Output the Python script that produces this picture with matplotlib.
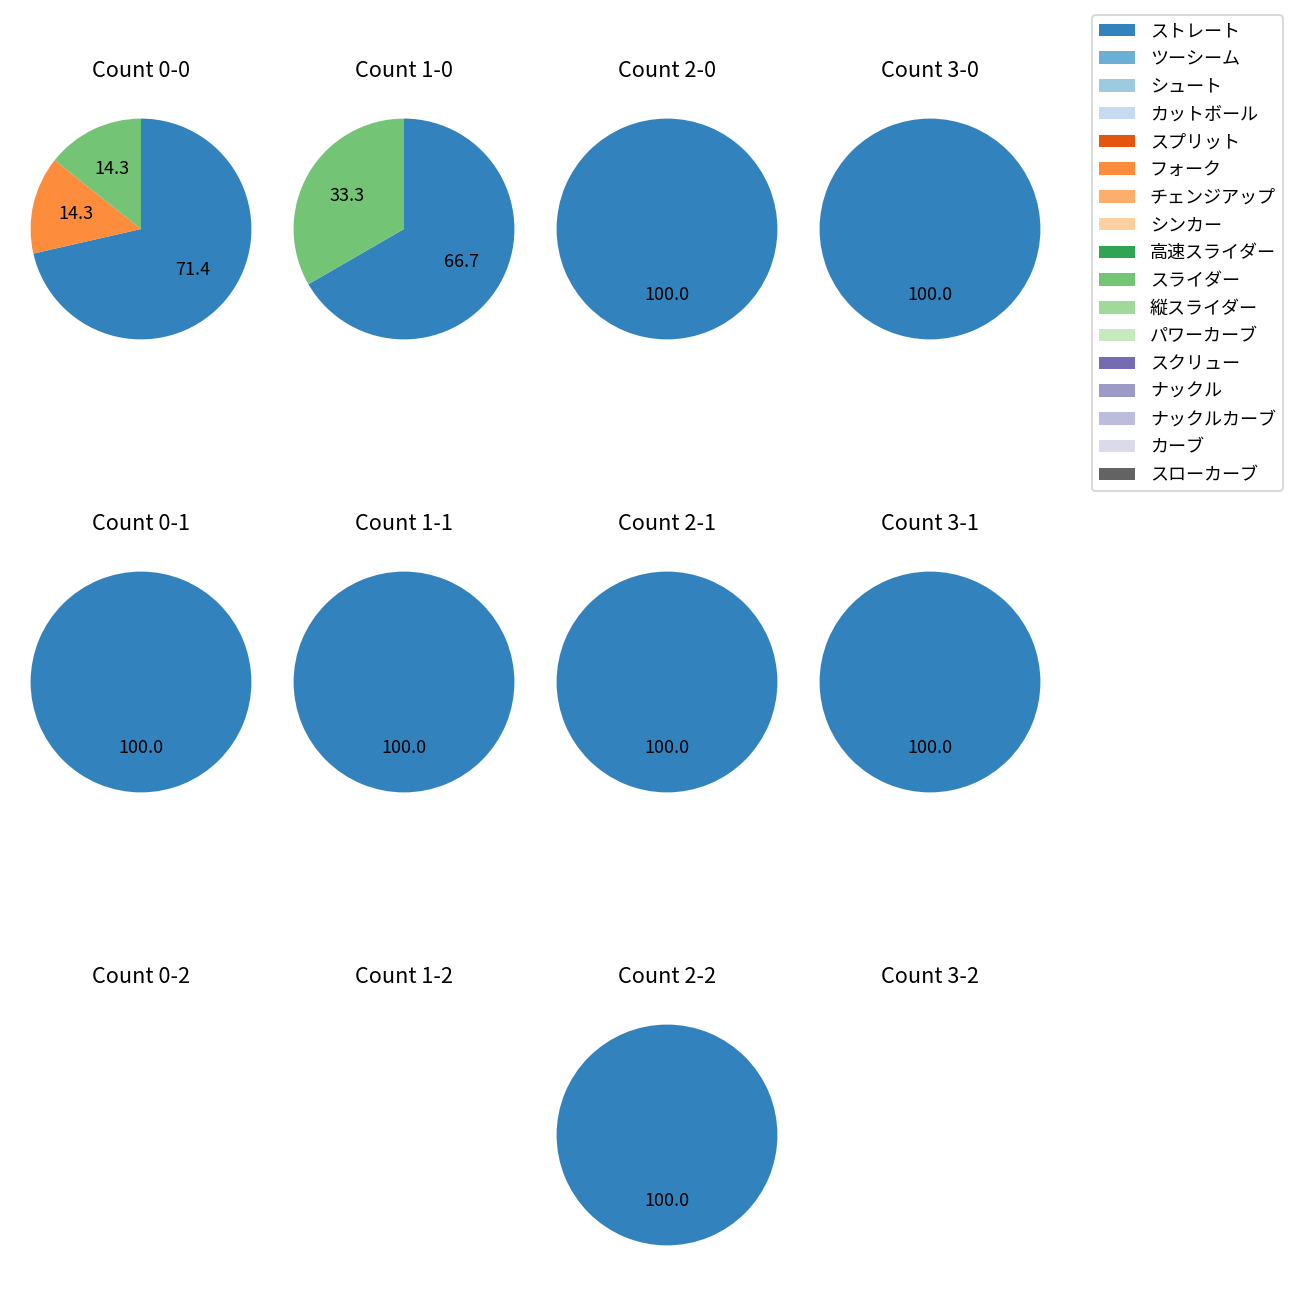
import matplotlib
matplotlib.use("Agg")
import matplotlib.pyplot as plt
from matplotlib.patches import Patch

plt.rcParams['font.family'] = ['Noto Sans CJK JP', 'DejaVu Sans']

pitch_types = ["ストレート", "ツーシーム", "シュート", "カットボール", "スプリット",
               "フォーク", "チェンジアップ", "シンカー", "高速スライダー", "スライダー",
               "縦スライダー", "パワーカーブ", "スクリュー", "ナックル", "ナックルカーブ",
               "カーブ", "スローカーブ"]
colors = ["#3182bd", "#6baed6", "#9ecae1", "#c6dbef", "#e6550d",
          "#fd8d3c", "#fdae6b", "#fdd0a2", "#31a354", "#74c476",
          "#a1d99b", "#c7e9c0", "#756bb1", "#9e9ac8", "#bcbddc",
          "#dadaeb", "#636363"]

balls = [0, 1, 2, 3]
strikes = [0, 1, 2]

# pitch counts per ball-strike count (only non-zero types listed)
counts = {
    (0, 0): {"ストレート": 5, "フォーク": 1, "スライダー": 1},
    (1, 0): {"ストレート": 2, "スライダー": 1},
    (2, 0): {"ストレート": 1},
    (3, 0): {"ストレート": 1},
    (0, 1): {"ストレート": 2},
    (1, 1): {"ストレート": 1},
    (2, 1): {"ストレート": 1},
    (3, 1): {"ストレート": 1},
    (0, 2): {},
    (1, 2): {},
    (2, 2): {"ストレート": 1},
    (3, 2): {},
}

fig = plt.figure(figsize=(10, 10), dpi=130)
W = H = 1300.0
size = 276.0
cx = [141, 404, 667, 930]
cy = [229, 682, 1135]

for s in strikes:
    for b in balls:
        ax = fig.add_axes([(cx[b] - size / 2) / W, 1 - (cy[s] + size / 2) / H,
                           size / W, size / H])
        data = counts[(b, s)]
        vals = [data[p] for p in pitch_types if p in data]
        cols = [colors[i] for i, p in enumerate(pitch_types) if p in data]
        if vals:
            ax.pie(vals, colors=cols, autopct='%.1f', startangle=90,
                   counterclock=False)
        else:
            ax.set_xlim(-1.25, 1.25)
            ax.set_ylim(-1.25, 1.25)
        ax.set_aspect('equal')
        ax.axis('off')
        ax.set_title(f"Count {b}-{s}", pad=7.6)

handles = [Patch(facecolor=c, label=p) for p, c in zip(pitch_types, colors)]
fig.legend(handles=handles, loc='upper right', borderaxespad=0,
           labelspacing=0.54, bbox_to_anchor=(1283 / W, 1 - 15 / H))

fig.savefig("out.png", dpi=130)
